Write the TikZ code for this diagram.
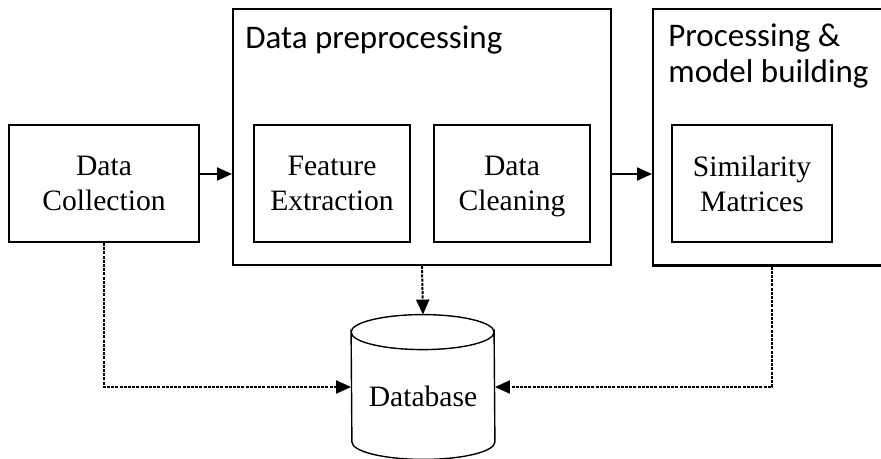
\documentclass[tikz,border=0pt]{standalone}
\usepackage{fontspec}
\setmainfont{Liberation Serif}
\newfontfamily\titlefont{Carlito}
\usetikzlibrary{arrows.meta,positioning}

\begin{document}
\begin{tikzpicture}[x=0.5pt,y=-0.5pt,>={Triangle[length=7.5pt,width=6.5pt]},
  box/.style={draw,line width=1pt,minimum width=78pt,minimum height=58.5pt,align=center,
    text depth=0pt,font=\fontsize{14.8}{17.5}\selectfont},
  frame/.style={draw,line width=1pt,minimum height=128pt},
  title/.style={anchor=base west,inner sep=0pt,align=left,font=\titlefont\fontsize{16.5}{18}\selectfont},
  link/.style={line width=1pt,dash pattern=on 1.5pt off 0.6pt,->}]
  \useasboundingbox (0,0) rectangle (881,459);
  \node[frame,minimum width=189pt] (prep) at (422,137) {};
  \node[frame,minimum width=119pt] (proc) at (772,137.5) {};
  \node[title] (preptitle) at (245,49) {Data preprocessing};
  \node[title] (proctitle) at (668,83) {Processing \&\\model building};
  \node[box,minimum width=95pt] (collect) at (104,183.5) {Data\\Collection};
  \node[box] (feat) at (332,183.5) {Feature\\Extraction};
  \node[box,right=11pt of feat] (clean) {Data\\Cleaning};
  \node[box,minimum width=80pt] (sim) at (752,184) {Similarity\\Matrices};
  \node[minimum width=71.5pt,minimum height=72pt,text height=19pt,text depth=0pt,
    font=\fontsize{14.8}{17.5}\selectfont] (db) at (423,387) {Database};
  \draw[line width=0.7pt] ([yshift=-8.75pt]db.north west)
    arc[start angle=180,end angle=360,x radius=35.75pt,y radius=8.75pt]
    -- ([yshift=8.75pt]db.south east)
    arc[start angle=0,end angle=-180,x radius=35.75pt,y radius=8.75pt] -- cycle;
  \draw[line width=0.7pt] ([yshift=-8.75pt]db.north west)
    arc[start angle=180,end angle=0,x radius=35.75pt,y radius=8.75pt];
  \draw[->,line width=1pt] ([yshift=4.75pt]collect.east) -- ([yshift=4.75pt]collect.east -| prep.west);
  \draw[->,line width=1pt] ([yshift=4.75pt]collect.east -| prep.east) -- ([yshift=4.75pt]collect.east -| proc.west);
  \draw[link] (collect.south) |- (db.west);
  \draw[link] (prep.south) -- (db.north);
  \draw[link] (proc.south) |- (db.east);
\end{tikzpicture}
\end{document}
